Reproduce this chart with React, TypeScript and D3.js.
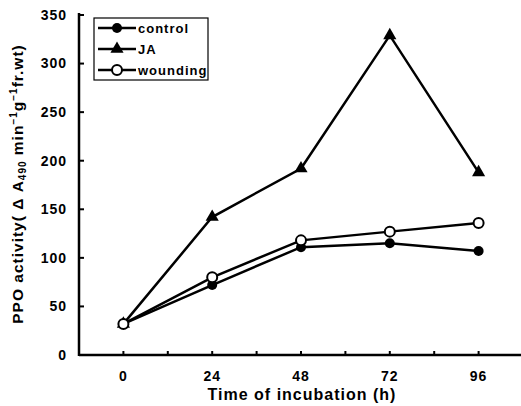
import React from "react";
import * as d3 from "d3";

// hours of incubation
const hours = [0, 24, 48, 72, 96];
const control = [32, 72, 111, 115, 107];
const ja = [32, 142, 192, 329, 188];
const wounding = [32, 80, 118, 127, 136];

const yTicks = [0, 50, 100, 150, 200, 250, 300, 350];
const xMinorTicks = [-12, 0, 12, 24, 36, 48, 60, 72, 84, 96, 108];

const W = 521;
const H = 406;
const FONT = "'Liberation Sans', Arial, Helvetica, sans-serif";

export default function App() {
  const x = d3.scaleLinear().domain([-12, 108]).range([79, 523]);
  const y = d3.scaleLinear().domain([0, 350]).range([355, 15]);

  const line = d3
    .line<number>()
    .x((_, i) => x(hours[i]))
    .y((d) => y(d));

  const tri = d3.symbol().type(d3.symbolTriangle).size(75)();

  const series = [
    { name: "control", values: control, mark: "dot" },
    { name: "JA", values: ja, mark: "tri" },
    { name: "wounding", values: wounding, mark: "open" },
  ];

  const marker = (kind: string, cx: number, cy: number, key: any) => {
    if (kind === "tri")
      return <path key={key} d={tri!} transform={`translate(${cx},${cy})`} fill="#000" />;
    if (kind === "open")
      return <circle key={key} cx={cx} cy={cy} r={5} fill="#fff" stroke="#000" strokeWidth={2} />;
    return <circle key={key} cx={cx} cy={cy} r={5} fill="#000" />;
  };

  return (
    <div style={{ position: "fixed", left: 0, top: 0 }}>
      <svg width={W} height={H} style={{ display: "block", background: "#fff" }} fontFamily={FONT}>
        {/* axes */}
        <line x1={x(-12)} x2={W} y1={y(0)} y2={y(0)} stroke="#000" strokeWidth={2.5} />
        <line x1={x(-12)} x2={x(-12)} y1={y(0) + 1} y2={y(350) - 2} stroke="#000" strokeWidth={2.5} />
        {xMinorTicks.map((t) => (
          <line key={t} x1={x(t)} x2={x(t)} y1={y(0)} y2={y(0) - 4} stroke="#000" strokeWidth={2} />
        ))}
        {yTicks.map((t) => (
          <g key={t}>
            <line x1={x(-12)} x2={x(-12) + 5} y1={y(t)} y2={y(t)} stroke="#000" strokeWidth={2} />
            <text x={67} y={y(t)} dy="0.35em" textAnchor="end" fontSize={14} fontWeight="bold" letterSpacing={1}>
              {t}
            </text>
          </g>
        ))}
        {hours.map((h) => (
          <text key={h} x={x(h)} y={381} textAnchor="middle" fontSize={14} fontWeight="bold" letterSpacing={1}>
            {h}
          </text>
        ))}
        <text x={302} y={400} textAnchor="middle" fontSize={16} fontWeight="bold" letterSpacing={1}>
          Time of incubation (h)
        </text>
        <text
          transform="translate(23,184) rotate(-90)"
          textAnchor="middle"
          fontSize={15.5}
          fontWeight="bold"
          letterSpacing={1}
        >
          PPO activity( Δ A
          <tspan fontSize={10} dy={3}>490</tspan>
          <tspan dy={-3}> min</tspan>
          <tspan fontSize={10} dy={-6}>−1</tspan>
          <tspan dy={6}>g</tspan>
          <tspan fontSize={10} dy={-6}>−1</tspan>
          <tspan dy={6}>fr.wt)</tspan>
        </text>

        {/* series */}
        {series.map((s) => (
          <g key={s.name}>
            <path d={line(s.values)!} fill="none" stroke="#000" strokeWidth={2.5} />
            {s.values.map((v, i) => marker(s.mark, x(hours[i]), y(v), i))}
          </g>
        ))}

        {/* legend */}
        <rect x={94} y={18} width={114} height={62} fill="#fff" stroke="#000" strokeWidth={1.2} />
        {series.map((s, i) => {
          const ly = 28 + i * 21;
          return (
            <g key={s.name}>
              <line x1={98} x2={136} y1={ly} y2={ly} stroke="#000" strokeWidth={2.5} />
              {marker(s.mark, 117, ly, "m")}
              <text x={138} y={ly} dy="0.35em" fontSize={13} fontWeight="bold" letterSpacing={1}>
                {s.name}
              </text>
            </g>
          );
        })}
      </svg>
    </div>
  );
}
